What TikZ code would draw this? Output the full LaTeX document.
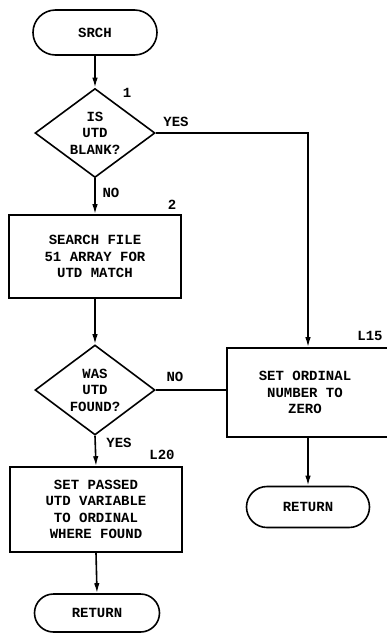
\documentclass[tikz,border=0pt]{standalone}
\usepackage{fontspec}
\setmonofont{Liberation Mono}
\usetikzlibrary{shapes.geometric,shapes.misc,arrows.meta}
\begin{document}
\begin{tikzpicture}[x=1pt,y=-1pt,
  every node/.style={font=\ttfamily\bfseries\fontsize{14}{16.5}\selectfont, align=center},
  flow/.style={line width=1.6pt},
  arr/.style={flow,-{Latex[length=10pt,width=5.5pt]}},
  term/.style={draw,line width=1.6pt,rounded rectangle,inner sep=0pt},
  proc/.style={draw,line width=1.6pt,rectangle,inner sep=0pt},
  dec/.style={draw,line width=1.6pt,diamond,inner sep=0pt,aspect=1.35},
  lbl/.style={inner sep=0pt}]
\useasboundingbox (0,0) rectangle (387,635);
\clip (0,0) rectangle (387,635);

\node[term,minimum width=124pt,minimum height=45pt] (srch) at (95,32.5) {SRCH};
\node[dec,minimum width=120pt,minimum height=89pt] (d1) at (95,133) {IS\\UTD\\BLANK?};
\node[proc,minimum width=172pt,minimum height=83pt] (box2) at (95,256.5) {SEARCH FILE\\51 ARRAY FOR\\UTD MATCH};
\node[dec,minimum width=120pt,minimum height=90pt] (d2) at (95,390) {WAS\\UTD\\FOUND?};
\node[proc,minimum width=172pt,minimum height=85pt] (l20) at (96,509.5) {SET PASSED\\UTD VARIABLE\\TO ORDINAL\\WHERE FOUND};
\node[term,minimum width=125pt,minimum height=38pt] (ret1) at (97,613) {RETURN};
\node[proc,minimum width=162pt,minimum height=89pt] (l15) at (308,392.5) {};
\node (l15t) at (305,392.5) {SET ORDINAL\\NUMBER TO\\ZERO};
\node[term,minimum width=123pt,minimum height=41pt] (ret2) at (308,507) {RETURN};

\node[lbl] (n1) at (127,93) {1};
\node[lbl] (yes1) at (176,122) {YES};
\node[lbl] (no1) at (111,193) {NO};
\node[lbl] (n2) at (172,205) {2};
\node[lbl] (no2) at (175,377) {NO};
\node[lbl] (yes2) at (119,443) {YES};
\node[lbl] (nl20) at (162,455) {L20};
\node[lbl] (nl15) at (370,336) {L15};

\draw[arr] (srch.south) -- (d1.north);
\draw[arr] (d1.south) -- (box2.north);
\draw[arr] (box2.south) -- (d2.north);
\draw[arr] (d2.south) -- (l20.north);
\draw[arr] (l20.south) -- (ret1.north);
\draw[arr] (d1.east) -| (l15.north);
\draw[flow] (d2.east) -- (d2.east -| l15.west);
\draw[arr] (l15.south) -- (ret2.north);
\end{tikzpicture}
\end{document}
